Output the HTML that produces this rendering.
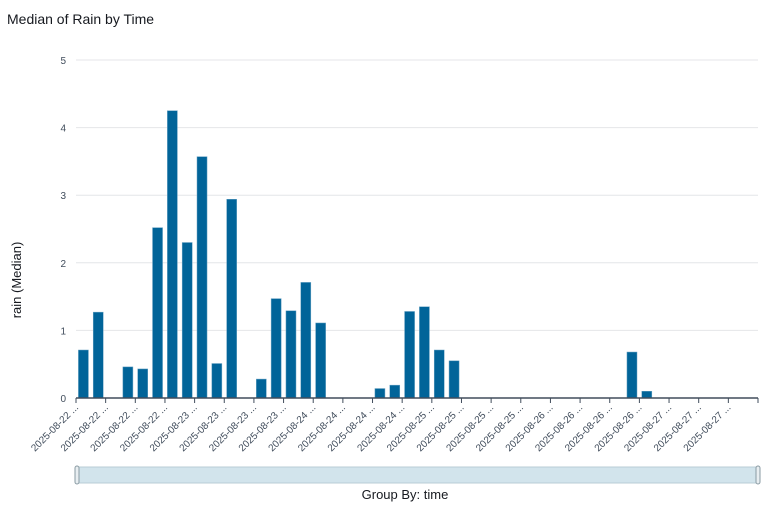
<!DOCTYPE html>
<html><head><meta charset="utf-8"><style>
body{margin:0;background:#fff;font-family:"Liberation Sans",sans-serif;}
svg text{font-family:"Liberation Sans",sans-serif;}
</style></head><body>
<svg id="c" width="781" height="509">
<text x="7" y="24" font-size="14" fill="#16191f">Median of Rain by Time</text>
<text transform="translate(21,280) rotate(-90)" text-anchor="middle" font-size="13" fill="#16191f">rain (Median)</text>
<g id="grid"></g><g id="bars"></g><g id="xax"></g>
<rect x="77" y="467" width="681" height="16" fill="#d2e4ec" stroke="#b8cdd6"/>
<rect x="75" y="466" width="4" height="18" rx="2" fill="#e8eef1" stroke="#8a9ba3"/>
<rect x="756" y="466" width="4" height="18" rx="2" fill="#e8eef1" stroke="#8a9ba3"/>
<text x="405" y="499" text-anchor="middle" font-size="13" fill="#16191f">Group By: time</text>
</svg>
<script>
const values=[0.71,1.27,0,0.46,0.43,2.52,4.25,2.30,3.57,0.51,2.94,0,0.28,1.47,1.29,1.71,1.11,0,0,0,0.14,0.19,1.28,1.35,0.71,0.55,0,0,0,0,0,0,0,0,0,0,0,0.68,0.10,0,0,0,0,0,0,0];
const tickLabels=["2025-08-22 ...","2025-08-22 ...","2025-08-22 ...","2025-08-22 ...","2025-08-23 ...","2025-08-23 ...","2025-08-23 ...","2025-08-23 ...","2025-08-24 ...","2025-08-24 ...","2025-08-24 ...","2025-08-24 ...","2025-08-25 ...","2025-08-25 ...","2025-08-25 ...","2025-08-25 ...","2025-08-26 ...","2025-08-26 ...","2025-08-26 ...","2025-08-26 ...","2025-08-27 ...","2025-08-27 ...","2025-08-27 ..."];
const yTicks=[0,1,2,3,4,5];
const NS="http://www.w3.org/2000/svg";
const x0=76,x1=758,y0=398,y5=60,ymax=5;
const bw=(x1-x0)/values.length;
const X=i=>x0+i*bw;
const Y=v=>y0-(v/ymax)*(y0-y5);
function mk(t,a,p){const e=document.createElementNS(NS,t);for(const k in a)e.setAttribute(k,a[k]);p.appendChild(e);return e;}
const grid=document.getElementById('grid'),bars=document.getElementById('bars'),xax=document.getElementById('xax');
yTicks.forEach(v=>{
 if(v>0){const l=mk('line',{x1:x0,x2:x1,y1:Y(v),y2:Y(v),stroke:'#e4e6e8'},grid);
 
 }
 const t=mk('text',{x:66,y:Y(v)+4,'text-anchor':'end','font-size':'10',fill:'#414d5c'},grid);
 
 
 t.textContent=v;
});
values.forEach((v,i)=>{
 if(v<=0)return;
 const r=mk('rect',{x:X(i)+2.4,y:Y(v),width:bw-4.8,height:y0-Y(v),fill:'#016499',stroke:'#6aa3c4','stroke-width':'0.5'},bars);
 
 
});
const ax=mk('line',{x1:x0,x2:x1,y1:y0,y2:y0,stroke:'#414d5c','stroke-width':'1.5'},xax);


for(let k=0;k<=tickLabels.length;k++){
 const tx=X(k*2);
 const tk=mk('line',{x1:tx,x2:tx,y1:y0,y2:y0+5,stroke:'#414d5c'},xax);
 
 
 if(k<tickLabels.length){
  const t=mk('text',{transform:`translate(${tx+3},${y0+10}) rotate(-45)`,'text-anchor':'end','font-size':'10',fill:'#414d5c'},xax);
  
  
  t.textContent=tickLabels[k];
 }
}
</script>
</body></html>
